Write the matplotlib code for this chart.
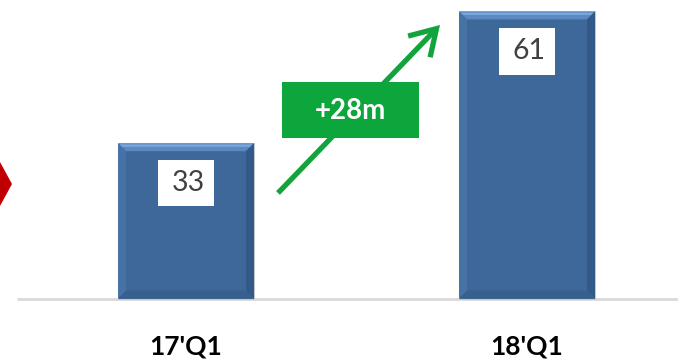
import matplotlib
matplotlib.use("Agg")
import matplotlib.pyplot as plt
from matplotlib.patches import Polygon, Rectangle, FancyArrowPatch

categories = ["17'Q1", "18'Q1"]
values = [33, 61]
change_label = "+28m"

plt.rcParams["font.family"] = ["Lato", "DejaVu Sans"]

W, H, DPI = 678, 360, 100
fig = plt.figure(figsize=(W / DPI, H / DPI), dpi=DPI)
fig.patch.set_facecolor("white")

# axes spans the full width; bottom of the axes is the baseline
base_px = 60
ax = fig.add_axes([0, base_px / H, 1, 1 - base_px / H])
px_per_unit_y = 4.73
px_per_unit_x = 341.0
x0_px = 186.0
ax.set_xlim(-x0_px / px_per_unit_x, (W - x0_px) / px_per_unit_x)
ax.set_ylim(0, (H - base_px) / px_per_unit_y)
ax.axis("off")

bar_width = 136 / px_per_unit_x
bars = ax.bar(range(len(values)), values, width=bar_width, color="#3E6899",
              edgecolor="#C4C9D0", linewidth=0.8, zorder=2)

# bevel edges on each bar
bx = 8 / px_per_unit_x
by = 8 / px_per_unit_y
for rect in bars:
    x, w, h = rect.get_x(), rect.get_width(), rect.get_height()
    xl, xr, yt = x, x + w, h
    faces = [
        ([(xl, yt), (xr, yt), (xr - bx, yt - by), (xl + bx, yt - by)], "#5C89C2"),
        ([(xl, 0), (xl, yt), (xl + bx, yt - by), (xl + bx, by)], "#4672A6"),
        ([(xr, 0), (xr, yt), (xr - bx, yt - by), (xr - bx, by)], "#325987"),
        ([(xl, 0), (xr, 0), (xr - bx, by), (xl + bx, by)], "#37608F"),
    ]
    for pts, col in faces:
        ax.add_patch(Polygon(pts, closed=True, facecolor=col, edgecolor="none", zorder=3))
    # lighter highlight along the top edge
    ax.add_patch(Polygon([(xl + bx * 0.2, yt - by * 0.15), (xr - bx * 0.2, yt - by * 0.15),
                          (xr - bx * 0.5, yt - by * 0.45), (xl + bx * 0.5, yt - by * 0.45)],
                         closed=True, facecolor="#7AA6DC", edgecolor="none", zorder=3))

    # value label in a white box near the top of the bar
    cx = x + w / 2
    cy = h - 40 / px_per_unit_y
    bw = 56 / px_per_unit_x
    bh = 47 / px_per_unit_y
    ax.add_patch(Rectangle((cx - bw / 2, cy - bh / 2), bw, bh, facecolor="white",
                           edgecolor="none", zorder=4))
    ax.text(cx + 2 / px_per_unit_x, cy, f"{h:g}", ha="center", va="center",
            fontsize=20.5, color="#404040", zorder=5)

# baseline
ax.plot([17 / px_per_unit_x - x0_px / px_per_unit_x, (W - x0_px) / px_per_unit_x], [0, 0],
        color="#D9D9D9", linewidth=2, zorder=1, clip_on=False, solid_capstyle="butt")
ax.set_ylim(-0.3, (H - base_px) / px_per_unit_y)

# category labels
for i, c in enumerate(categories):
    fig.text((x0_px + i * px_per_unit_x) / W, 1 - 347 / H, c, ha="center", va="center",
             fontsize=19, fontweight="bold", color="black")

# growth arrow
arrow = FancyArrowPatch((278 / W, 1 - 193 / H), (440 / W, 1 - 25 / H),
                        transform=fig.transFigure,
                        arrowstyle="->,head_length=0.9,head_width=0.55",
                        mutation_scale=20, shrinkA=0, shrinkB=0,
                        color="#12A33C", linewidth=3.8, capstyle="butt", joinstyle="miter")
fig.patches.append(arrow)

# change badge
fig.patches.append(Rectangle((282 / W, 1 - 138 / H), 137 / W, 56 / H,
                             transform=fig.transFigure, facecolor="#0DA63C",
                             edgecolor="none", zorder=4))
fig.text(350.5 / W, 1 - 111 / H, change_label, ha="center", va="center",
         fontsize=20, fontweight="bold", color="white", zorder=5)

# red marker at the left edge
fig.patches.append(Polygon([(-12 / W, 1 - 184 / H), (0, 1 - 162 / H), (12 / W, 1 - 184 / H),
                            (0, 1 - 206 / H)], closed=True, transform=fig.transFigure,
                           facecolor="#C00000", edgecolor="none"))

fig.savefig("out.png", dpi=DPI, facecolor="white")
